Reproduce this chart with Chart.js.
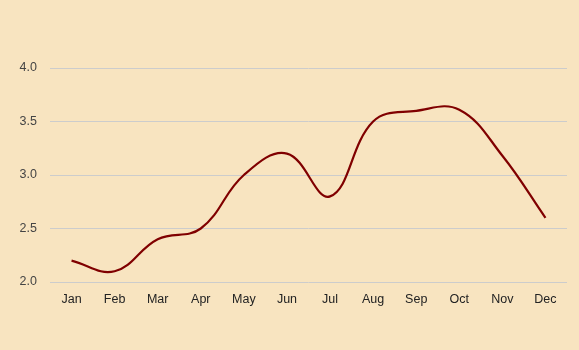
<!DOCTYPE html>
<html>
<head>
<meta charset="utf-8">
<script src="https://cdn.jsdelivr.net/npm/chart.js@4/dist/chart.umd.min.js"></script>
<style>
  html, body { margin: 0; padding: 0; background: #f8e4c0; }
  #wrap { width: 579px; height: 350px; }
</style>
</head>
<body>
<div id="wrap"><canvas id="myChart" width="579" height="350"></canvas></div>
<script>
// 月と値
var months = ["Jan", "Feb", "Mar", "Apr", "May", "Jun", "Jul", "Aug", "Sep", "Oct", "Nov", "Dec"];
var values = [2.2, 2.1, 2.4, 2.5, 3.0, 3.2, 2.8, 3.5, 3.6, 3.61, 3.18, 2.6];
var yTicks = [2.0, 2.5, 3.0, 3.5, 4.0];

var ctx = document.getElementById("myChart");
var myLineChart = new Chart(ctx, {
  type: 'line',
  data: {
    labels: months,
    datasets: [{
      data: values,
      borderColor: "#800000",
      borderWidth: 2.2,
      pointRadius: 0,
      fill: false,
      tension: 0.4
    }]
  },
  options: {
    responsive: false,
    animation: false,
    layout: { padding: { top: 68, right: 12, bottom: 0, left: 0 } },
    plugins: { legend: { display: false }, tooltip: { enabled: false } },
    scales: {
      x: {
        offset: true,
        grid: { display: false },
        border: { display: false },
        ticks: { color: "#222", font: { family: "Arial, 'Liberation Sans'", size: 12.5 }, padding: 2, maxRotation: 0 },
        afterFit: function (s) { s.height = 68; }
      },
      y: {
        min: 2,
        max: 4,
        afterBuildTicks: function (s) { s.ticks = yTicks.map(function (v) { return { value: v }; }); },
        grid: { color: "#cccccc", drawTicks: false, lineWidth: 1 },
        border: { display: false },
        ticks: {
          color: "#444",
          font: { family: "Arial, 'Liberation Sans'", size: 12.5 },
          padding: 13,
          callback: function (v) { return Number(v).toFixed(1); }
        },
        afterFit: function (s) { s.width = 50; }
      }
    }
  }
});
</script>
</body>
</html>
